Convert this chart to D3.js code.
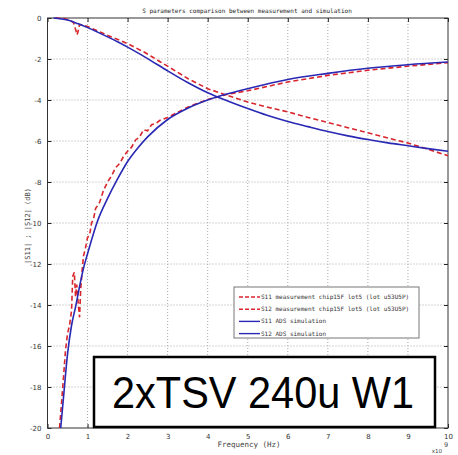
<!DOCTYPE html>
<html>
<head>
<meta charset="utf-8">
<script src="https://cdn.jsdelivr.net/npm/d3@7"></script>
<style>
  body { margin: 0; background: #fff; }
  svg { display: block; }
</style>
</head>
<body>
<script>
// simulated curves (ADS)
const simS12Freq = [0.15, 0.25, 0.5, 0.75, 1, 1.25, 1.5, 1.75, 2, 2.5, 3, 3.5, 4, 4.5, 5, 5.5, 6, 6.5, 7, 7.5, 8, 8.5, 9, 9.5, 10];
const simS12 = [0, -0.02, -0.1, -0.27, -0.47, -0.69, -0.92, -1.16, -1.42, -1.98, -2.58, -3.15, -3.65, -4.05, -4.42, -4.76, -5.05, -5.3, -5.54, -5.75, -5.93, -6.09, -6.23, -6.37, -6.5];

const simS11Freq = [0.33, 0.4, 0.5, 0.6, 0.7, 0.8, 0.9, 1, 1.25, 1.5, 1.75, 2, 2.25, 2.5, 3, 3.5, 4, 4.5, 5, 6, 7, 8, 9, 10];
const simS11 = [-20, -18.5, -16.4, -15.0, -14.1, -13.1, -12.2, -11.5, -9.9, -8.8, -7.85, -7.0, -6.35, -5.8, -4.95, -4.4, -4.0, -3.7, -3.45, -3.0, -2.7, -2.45, -2.28, -2.15];

// measurement (chip15F lot5)
const measS12Freq = [0.2, 0.4, 0.55, 0.65, 0.7, 0.74, 0.77, 0.8, 0.9, 1.0, 1.2, 1.4, 1.6, 1.8, 2.0, 2.2, 2.4, 2.6, 2.8, 3.0, 3.5, 4.0, 4.5, 5.0, 5.5, 6.0, 6.5, 7.0, 7.5, 8.0, 8.5, 9.0, 9.5, 10];
const measS12 = [0, -0.02, -0.1, -0.22, -0.55, -0.82, -0.6, -0.32, -0.36, -0.42, -0.58, -0.76, -0.93, -1.08, -1.25, -1.45, -1.65, -1.88, -2.12, -2.35, -2.95, -3.45, -3.78, -4.1, -4.35, -4.58, -4.85, -5.1, -5.35, -5.6, -5.85, -6.1, -6.4, -6.72];

const measS11Freq = [0.3, 0.35, 0.4, 0.45, 0.5, 0.55, 0.6, 0.63, 0.67, 0.7, 0.73, 0.77, 0.8, 0.83, 0.87, 0.9, 0.95, 1.0, 1.05, 1.1, 1.15, 1.2, 1.3, 1.4, 1.5, 1.6, 1.7, 1.8, 1.9, 2.0, 2.1, 2.2, 2.3, 2.4, 2.5, 2.6, 2.7, 2.8, 3.0, 3.5, 4.0, 4.5, 5.0, 6.0, 7.0, 8.0, 9.0, 10];
const measS11 = [-20, -18.8, -17.5, -16.2, -15.4, -15.0, -14.3, -12.6, -12.4, -13.6, -13.0, -14.0, -14.6, -13.2, -12.2, -11.6, -11.2, -10.7, -10.6, -10.0, -9.8, -9.3, -9.0, -8.4, -8.0, -7.7, -7.3, -7.1, -6.75, -6.5, -6.3, -5.95, -5.8, -5.45, -5.5, -5.2, -5.15, -5.0, -4.85, -4.35, -3.98, -3.72, -3.55, -3.12, -2.8, -2.55, -2.35, -2.18];

const xTicks = [0, 1, 2, 3, 4, 5, 6, 7, 8, 9, 10];
const yTicks = [0, -2, -4, -6, -8, -10, -12, -14, -16, -18, -20];

const legendLabels = [
  'S11 measurement chip15F lot5 (lot u53U5P)',
  'S12 measurement chip15F lot5 (lot u53U5P)',
  'S11 ADS simulation',
  'S12 ADS simulation'
];

const RED = '#d8262c';
const BLUE = '#2828b4';
const MONO = '"DejaVu Sans Mono", monospace';

const W = 458, H = 455;
const svg = d3.select('body').append('svg')
              .attr('width', W)
              .attr('height', H);

const x = d3.scaleLinear().domain([0, 10]).range([47.5, 448]);
const y = d3.scaleLinear().domain([-20, 0]).range([428, 18]);

// grid
const grid = svg.append('g');
grid.selectAll('.gx').data(xTicks.slice(1, -1)).join('line')
    .attr('x1', d => x(d)).attr('x2', d => x(d))
    .attr('y1', y(0)).attr('y2', y(-20))
    .attr('stroke', '#a8a8a8').attr('stroke-dasharray', '1,2');
grid.selectAll('.gy').data(yTicks.slice(1, -1)).join('line')
    .attr('y1', d => y(d)).attr('y2', d => y(d))
    .attr('x1', x(0)).attr('x2', x(10))
    .attr('stroke', '#a8a8a8').attr('stroke-dasharray', '1,2');

// axes (MATLAB style: ticks inward on all sides)
const xAxisB = d3.axisBottom(x).tickValues(xTicks).tickSize(-4).tickPadding(6).tickFormat(d3.format('d'));
const xAxisT = d3.axisTop(x).tickValues(xTicks).tickSize(-4).tickFormat('');
const yAxisL = d3.axisLeft(y).tickValues(yTicks).tickSize(-4).tickPadding(6).tickFormat(d => d);
const yAxisR = d3.axisRight(y).tickValues(yTicks).tickSize(-4).tickFormat('');

function styleAxis(g) {
  g.select('.domain').remove();
  g.selectAll('line').attr('stroke', '#222');
  g.selectAll('text').attr('font-family', '"DejaVu Sans", sans-serif').attr('font-size', 7).attr('fill', '#333');
}
svg.append('g').attr('transform', `translate(0,${y(-20)})`).call(xAxisB).call(styleAxis);
svg.append('g').attr('transform', `translate(0,${y(0)})`).call(xAxisT).call(styleAxis);
svg.append('g').attr('transform', `translate(${x(0)},0)`).call(yAxisL).call(styleAxis);
svg.append('g').attr('transform', `translate(${x(10)},0)`).call(yAxisR).call(styleAxis);

svg.append('rect')
   .attr('x', x(0)).attr('y', y(0))
   .attr('width', x(10) - x(0)).attr('height', y(-20) - y(0))
   .attr('fill', 'none').attr('stroke', '#333').attr('stroke-width', 1);

// curves
const plot = svg.append('g');
const lineLin = d3.line().x(d => x(d[0])).y(d => y(d[1]));
const lineSmooth = d3.line().curve(d3.curveMonotoneX).x(d => x(d[0])).y(d => y(d[1]));

const series = [
  { f: measS11Freq, v: measS11, color: RED, dash: '5,3', gen: lineLin },
  { f: measS12Freq, v: measS12, color: RED, dash: '5,3', gen: lineLin },
  { f: simS11Freq, v: simS11, color: BLUE, dash: null, gen: lineSmooth },
  { f: simS12Freq, v: simS12, color: BLUE, dash: null, gen: lineSmooth }
];

series.forEach(s => {
  plot.append('path')
      .datum(s.f.map((f, i) => [f, s.v[i]]))
      .attr('d', s.gen)
      .attr('fill', 'none')
      .attr('stroke', s.color)
      .attr('stroke-width', 1.6)
      .attr('stroke-dasharray', s.dash);
});

// title and labels
svg.append('text')
   .attr('x', 247).attr('y', 13)
   .attr('text-anchor', 'middle')
   .attr('font-family', MONO).attr('font-size', 6)
   .attr('fill', '#222')
   .text('S parameters comparison between measurement and simulation');

svg.append('text')
   .attr('transform', 'translate(30,226) rotate(-90)')
   .attr('text-anchor', 'middle')
   .attr('font-family', MONO).attr('font-size', 7)
   .attr('fill', '#444')
   .text('|S11| ; |S12| (dB)');

svg.append('text')
   .attr('x', 249).attr('y', 447)
   .attr('text-anchor', 'middle')
   .attr('font-family', MONO).attr('font-size', 7.5)
   .attr('fill', '#444')
   .text('Frequency (Hz)');

svg.append('text')
   .attr('x', 446).attr('y', 447)
   .attr('text-anchor', 'middle')
   .attr('font-family', '"DejaVu Sans", sans-serif').attr('font-size', 6.5)
   .attr('fill', '#444')
   .text('9');
svg.append('text')
   .attr('x', 442).attr('y', 453)
   .attr('text-anchor', 'end')
   .attr('font-family', '"DejaVu Sans", sans-serif').attr('font-size', 5.5)
   .attr('fill', '#444')
   .text('x10');

// legend
const lg = svg.append('g').attr('transform', 'translate(234,287)');
lg.append('rect')
  .attr('width', 185).attr('height', 51)
  .attr('fill', '#fff').attr('stroke', '#777').attr('stroke-width', 1);
legendLabels.forEach((label, i) => {
  const s = series[i];
  const yy = 10 + i * 12.2;
  lg.append('line')
    .attr('x1', 5).attr('x2', 26).attr('y1', yy).attr('y2', yy)
    .attr('stroke', s.color).attr('stroke-width', 1.4)
    .attr('stroke-dasharray', s.dash ? '4,2' : null);
  lg.append('text')
    .attr('x', 27).attr('y', yy + 2)
    .attr('font-family', MONO).attr('font-size', 6)
    .attr('fill', '#333')
    .text(label);
});

// annotation box
const ann = svg.append('g');
ann.append('rect')
   .attr('x', 94).attr('y', 357)
   .attr('width', 341).attr('height', 70)
   .attr('fill', '#fff').attr('stroke', '#000').attr('stroke-width', 2.5);
ann.append('text')
   .attr('x', 263).attr('y', 408)
   .attr('text-anchor', 'middle')
   .attr('font-family', '"Liberation Sans", Arial, sans-serif')
   .attr('font-size', 45)
   .attr('textLength', 302)
   .attr('lengthAdjust', 'spacingAndGlyphs')
   .attr('fill', '#000')
   .text('2xTSV 240u W1');
</script>
</body>
</html>
